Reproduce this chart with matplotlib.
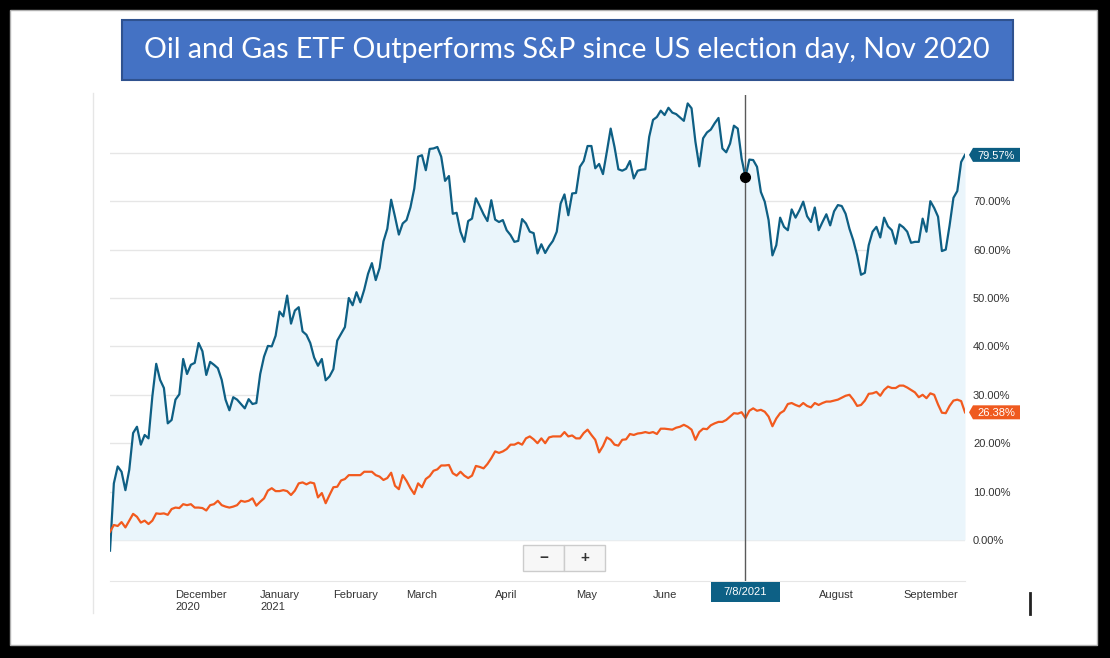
import matplotlib.pyplot as plt
import matplotlib.transforms as mtransforms
from matplotlib.patches import Rectangle, Polygon
from matplotlib.lines import Line2D
import numpy as np
import pandas as pd

plt.rcParams['font.family'] = ['Liberation Sans', 'DejaVu Sans']

title = "Oil and Gas ETF Outperforms S&P since US election day, Nov 2020"

# trading days shown on the chart (NYSE holidays removed)
holidays = ['2020-11-26', '2020-12-25', '2021-01-01', '2021-01-18', '2021-02-15',
            '2021-04-02', '2021-05-31', '2021-07-05', '2021-09-06']
dates = pd.bdate_range('2020-11-05', '2021-09-24', freq='C', holidays=holidays)

# oil & gas ETF, % change since election day
etf = [-2.2, 11.7, 15.2, 14.1, 10.3, 14.5, 22.1, 23.4, 19.7, 21.7,
       21.0, 29.7, 36.4, 33.1, 31.4, 24.1, 24.8, 29.0, 30.1, 37.4,
       34.3, 36.2, 36.6, 40.7, 39.0, 34.1, 36.8, 36.2, 35.5, 33.1,
       29.0, 26.8, 29.5, 29.0, 28.1, 27.2, 29.1, 28.1, 28.3, 34.3,
       37.9, 40.1, 40.0, 42.2, 47.2, 46.2, 50.5, 44.7, 47.4, 48.1,
       43.1, 42.4, 40.7, 37.7, 36.0, 37.4, 33.0, 33.8, 35.3, 41.2,
       42.6, 44.0, 50.0, 48.5, 51.2, 49.1, 51.7, 55.0, 57.2, 53.7,
       56.2, 61.7, 64.3, 70.3, 66.8, 63.1,
       65.4, 66.1, 68.7, 72.6, 79.2, 79.5, 76.4, 80.8, 80.9, 81.2,
       79.2, 74.2, 75.2, 67.4, 67.6, 63.7, 61.6, 65.9, 66.4, 70.6,
       69.0, 67.3, 65.9, 70.2, 66.2, 65.7, 66.1, 64.0, 63.0, 61.6,
       61.8, 66.3, 65.4, 63.7, 63.4, 59.2, 61.1, 59.3, 60.7, 61.8,
       63.7, 69.5, 71.4, 67.1, 71.6, 71.7, 77.1, 78.3, 81.4, 81.4,
       76.8, 77.7, 75.6, 80.2, 85.0, 81.2, 76.6, 76.3, 76.7, 78.3,
       74.7, 76.3, 76.5, 76.6, 83.3, 86.8, 87.4, 88.7, 87.8, 89.3,
       88.3, 88.0, 87.3, 86.6, 90.2, 89.2, 82.3, 77.2, 83.0, 84.2,
       84.8, 86.1, 87.2, 80.9, 80.1, 81.9, 85.6, 85.0, 78.8,
       75.0, 78.6, 78.5, 77.1, 71.9, 69.9, 66.1, 58.8,
       60.9, 66.6, 64.7, 64.0, 68.3, 66.6, 68.1, 69.9, 66.9, 65.7,
       68.7, 64.0, 65.7, 67.3, 65.0, 67.9, 69.2, 69.0, 67.4, 64.3,
       61.9, 58.8, 54.8, 55.2, 60.9, 63.7, 64.7, 62.5, 66.6, 64.8,
       64.0, 61.2, 65.2, 64.6, 63.7, 61.4, 61.6, 61.6, 66.4, 63.7,
       70.0, 68.6, 66.8, 59.7, 60.0, 65.0, 70.7, 72.1, 78.1, 79.57]

# S&P 500, % change since election day
spx = [1.7, 3.1, 2.9, 3.7, 2.6, 4.0, 5.4, 4.8, 3.6, 4.0,
       3.3, 4.0, 5.5, 5.4, 5.5, 5.2, 6.4, 6.7, 6.6, 7.4,
       7.2, 7.4, 6.7, 6.7, 6.6, 6.1, 7.2, 7.4, 8.1, 7.2,
       6.9, 6.7, 6.9, 7.2, 8.1, 7.9, 8.1, 8.6, 7.1, 7.9,
       8.6, 10.2, 10.7, 10.1, 10.1, 10.3, 10.1, 9.3, 10.2, 11.7,
       11.9, 11.5, 11.9, 11.7, 8.8, 9.7, 7.6, 9.3, 10.9, 11.0,
       12.3, 12.6, 13.4, 13.4, 13.4, 13.4, 14.1, 14.1, 14.1, 13.4,
       13.1, 12.4, 12.8, 13.9, 11.2, 10.5,
       13.4, 12.2, 10.7, 9.5, 11.7, 10.9, 12.6, 13.2, 14.3, 14.6,
       15.4, 15.4, 15.5, 13.8, 13.3, 14.1, 13.3, 12.8, 13.3, 15.3,
       15.1, 14.8, 15.7, 16.9, 18.3, 18.0, 18.3, 18.8, 19.7, 19.7,
       20.1, 19.7, 21.0, 21.4, 20.8, 20.0, 21.0, 20.0, 21.2, 21.4,
       21.4, 21.4, 22.3, 21.4, 21.6, 21.0, 21.0, 22.1, 22.8, 21.7,
       20.7, 18.1, 19.4, 21.2, 20.7, 19.7, 19.5, 20.7, 20.8, 21.9,
       21.7, 22.0, 22.1, 22.3, 22.1, 22.3, 21.9, 23.0, 23.0, 22.9,
       22.8, 23.2, 23.4, 23.8, 23.4, 22.8,
       20.7, 22.3, 23.0, 22.9, 23.7, 24.1, 24.4, 24.4, 24.8, 25.5,
       26.2, 26.1, 26.4,
       25.2, 26.7, 27.2, 26.7, 26.9, 26.5, 25.5, 23.5, 25.1, 26.2,
       26.7, 28.1, 28.3, 27.9, 27.6, 28.3, 27.7, 27.4, 28.3, 27.9,
       28.3, 28.6, 28.6, 28.8, 29.0, 29.4, 29.8, 30.0, 29.0, 27.7,
       27.9, 28.8, 30.2, 30.3, 30.6, 29.8, 31.0, 31.7, 31.4, 31.4,
       31.9, 31.9, 31.5, 31.0, 30.5, 29.5, 30.0, 29.3, 30.3, 30.0,
       28.0, 26.3, 26.2, 27.7, 28.8, 29.0, 28.7, 26.38]

month_labels = ['December\n2020', 'January\n2021', 'February', 'March', 'April',
                'May', 'June', 'July', 'August', 'September']
y_ticks = [0, 10, 20, 30, 40, 50, 60, 70, 80]

hover_index = 165
hover_label = '7/8/2021'

assert len(dates) == len(etf) == len(spx)

blue = '#0e5f84'
orange = '#f25a1e'
fill = '#eaf5fb'

W, H = 1110, 658
fig = plt.figure(figsize=(W / 100, H / 100), dpi=100, facecolor='black')


def fx(px):
    return px / W


def fy(py):
    return 1 - py / H


def px_trans(x, y, base):
    # pixel offsets anchored on a point given in `base` coordinates
    return mtransforms.Affine2D() + mtransforms.ScaledTranslation(x, y, base)


# white page inside the black frame
fig.add_artist(Rectangle((fx(10), fy(645)), 1087 / W, 635 / H, transform=fig.transFigure,
                         fc='white', ec='#b0b0b0', lw=1, zorder=-5))
fig.add_artist(Line2D([fx(93), fx(93)], [fy(93), fy(613)], transform=fig.transFigure,
                      color='#e6e6e6', lw=1, zorder=-4))

# title box
fig.add_artist(Rectangle((fx(122), fy(80)), 891 / W, 60 / H, transform=fig.transFigure,
                         fc='#4472c4', ec='#2f528f', lw=1.5, zorder=2))
fig.text(fx(567), fy(50), title, ha='center', va='center', color='white',
         fontsize=20.5, family=['Lato', 'DejaVu Sans'], zorder=3)

ax = fig.add_axes([fx(110), fy(581), 855 / W, 486 / H])
ax.set_facecolor('none')

x = np.arange(len(dates))
ax.fill_between(x, etf, 0, color=fill, lw=0, zorder=1)
ax.plot(x, etf, color=blue, lw=1.6, zorder=3)
ax.plot(x, spx, color=orange, lw=1.6, zorder=3)
ax.axvline(hover_index, color='#5a5a5a', lw=1, zorder=4)
ax.plot(hover_index, etf[hover_index], 'o', color='black', ms=7, zorder=5)

# y axis on the right
ax.set_yticks(y_ticks)
ax.set_yticklabels(['%.2f%%' % v if v < 80 else '' for v in y_ticks])
ax.yaxis.tick_right()
ax.tick_params(axis='y', length=0, pad=5.8, labelsize=8, labelcolor='#333333')
ax.grid(axis='y', color='#e6e6e6', lw=1)
ax.set_axisbelow(True)

# month ticks at first trading day of each month
months = dates.to_period('M')
tick_idx = [i for i in range(1, len(dates)) if months[i] != months[i - 1]]
ax.set_xticks(tick_idx)
ax.set_xticklabels(month_labels, ha='left', va='top')
ax.tick_params(axis='x', length=0, pad=6.5, labelsize=8, labelcolor='#333333')

for s in ['top', 'left', 'right']:
    ax.spines[s].set_visible(False)
ax.spines['bottom'].set_color('#e6e6e6')

ax.set_xlim(0, len(dates) - 1)
ax.set_ylim(-8.47, 91.94)


# end-of-series flags
def flag(idx, val, text, color):
    tr = px_trans(idx, val, ax.transData)
    fig.add_artist(Polygon([(4, 0), (8, 7), (55, 7), (55, -7), (8, -7)], closed=True,
                           transform=tr, fc=color, ec='none', zorder=6))
    fig.text(31.5, 0, text, transform=tr, ha='center', va='center_baseline',
             color='white', fontsize=8, zorder=7)


flag(len(etf) - 1, etf[-1], '%.2f%%' % etf[-1], '#0b5d82')
flag(len(spx) - 1, spx[-1], '%.2f%%' % spx[-1], '#ef5a1f')

# hovered date box under the crosshair
tr = px_trans(hover_index, 0, mtransforms.blended_transform_factory(ax.transData, ax.transAxes))
fig.add_artist(Rectangle((-34.5, -21), 69, 20, transform=tr, fc='#0d6085', ec='none', zorder=6))
fig.text(0, -11, hover_label, transform=tr, ha='center', va='center',
         color='white', fontsize=8, zorder=7)

# zoom buttons
for x0, sign in [(523, '\u2212'), (564, '+')]:
    fig.add_artist(Rectangle((fx(x0), fy(571)), 41 / W, 26 / H, transform=fig.transFigure,
                             fc='#f7f7f7', ec='#cccccc', lw=1, zorder=6))
    fig.text(fx(x0 + 20.5), fy(558), sign, ha='center', va='center', color='#333333',
             fontsize=11, fontweight='bold', zorder=7)

# text cursor
fig.add_artist(Line2D([fx(1030), fx(1030)], [fy(593), fy(614)], transform=fig.transFigure,
                      color='#222222', lw=2, zorder=6))

fig.savefig('out.png', dpi=100, facecolor='black')
